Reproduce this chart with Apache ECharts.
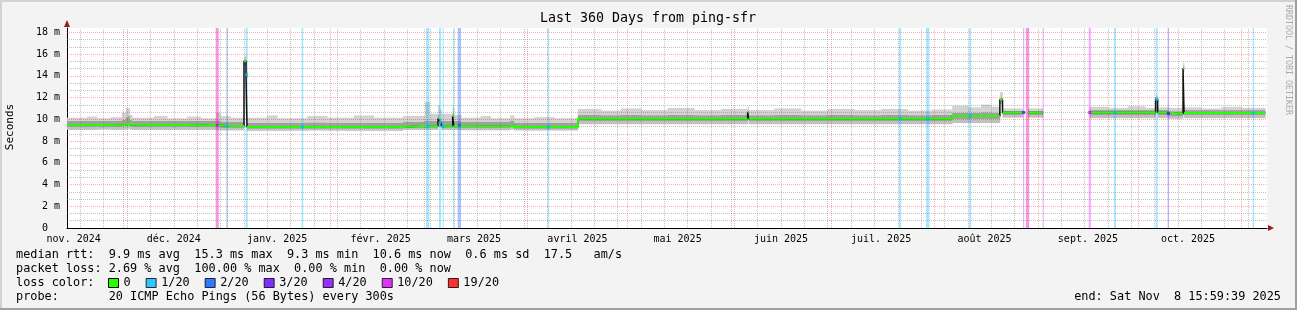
<!DOCTYPE html>
<html><head><meta charset="utf-8">
<script src="https://cdn.jsdelivr.net/npm/echarts@6/dist/echarts.min.js"></script>
<style>html,body{margin:0;padding:0;background:#f3f3f3}#c{width:1297px;height:310px}</style>
</head><body><div id="c"></div>
<script>
// ---------- axis / tick data ----------
const startDate = '2024-11-14';
const spanDays = 359.667;
const monthStarts = ['2024-12-01','2025-01-01','2025-02-01','2025-03-01','2025-04-01','2025-05-01','2025-06-01','2025-07-01','2025-08-01','2025-09-01','2025-10-01','2025-11-01'];
const monthLabelDates = ['2024-11-16','2024-12-16','2025-01-16','2025-02-16','2025-03-16','2025-04-16','2025-05-16','2025-06-16','2025-07-16','2025-08-16','2025-09-16','2025-10-16'];
const monthLabels = ['nov. 2024','déc. 2024','janv. 2025','févr. 2025','mars 2025','avril 2025','mai 2025','juin 2025','juil. 2025','août 2025','sept. 2025','oct. 2025'];
const firstMonday = '2024-11-18';
const yTicks = [0,2,4,6,8,10,12,14,16,18];
const yMax = 18.4;

// ---------- series data (days since start, milliseconds) ----------
const sampleDays = [0,6,9,13,16.5,17.6,18.3,18.8,19.5,26,30,36,40,44.7,46,49,53.05,53.65,53.95,60,63,72,78,86,92,100.7,107.3,108.6,111.2,111.6,112.2,115.6,115.9,118.1,124,127,132.8,134,140,146,153.1,160,166,172,180,188,196,204,204.3,212,220,228,236,244,252,259,265.3,270,274,277,279.6,280.4,286.5,288,292.5,306.5,312,318,323,326.3,326.9,330,334.5,334.8,340,346,352,359.1];
const medianMs = [9.48,9.48,9.48,9.45,9.5,9.55,9.78,9.5,9.48,9.48,9.48,9.46,9.48,9.45,9.38,9.38,15.33,14.1,9.29,9.29,9.29,9.29,9.29,9.29,9.29,9.41,9.35,9.35,10.1,9.7,9.35,10.3,9.38,9.35,9.35,9.35,9.5,9.29,9.29,9.29,10.06,10.06,10.06,10.06,10.04,10.06,10.06,10.67,10.06,10.06,10.04,10.06,10.06,10.04,10.06,10.04,10.3,10.3,10.3,10.3,11.8,10.63,null,10.63,null,10.63,10.63,10.63,10.63,11.85,10.63,10.49,14.7,10.58,10.58,10.58,10.58,10.6];
const smokeMinMs = [9.02,9.02,9.05,9.02,9.05,9.05,9.15,9.05,9.02,9.02,9.02,9.02,9.02,8.98,8.98,8.98,14.9,13.8,8.95,8.95,8.95,8.97,8.95,8.95,8.95,9.02,9.02,9.02,9.5,9.3,9.02,9.6,9.02,8.99,8.99,8.99,9.05,8.97,8.97,8.97,9.55,9.55,9.55,9.55,9.55,9.55,9.55,9.9,9.55,9.55,9.55,9.55,9.55,9.55,9.55,9.55,9.66,9.66,9.66,9.66,11.4,10.15,null,10.15,null,10.1,10.1,10.1,10.1,11.5,10.1,10.05,14.4,10.1,10.1,10.1,10.1,10.1];
const smokeLoMs = [9.3,9.3,9.3,9.28,9.35,9.4,9.5,9.35,9.3,9.3,9.3,9.28,9.3,9.25,9.2,9.2,15.1,13.95,9.12,9.12,9.12,9.12,9.12,9.12,9.12,9.2,9.2,9.2,9.75,9.5,9.2,9.9,9.2,9.15,9.15,9.15,9.25,9.12,9.12,9.12,9.8,9.8,9.8,9.8,9.8,9.8,9.8,10.2,9.8,9.8,9.8,9.8,9.8,9.8,9.8,9.8,10.0,10.0,10.0,10.0,11.6,10.4,null,10.4,null,10.35,10.35,10.35,10.35,11.7,10.35,10.25,14.55,10.35,10.35,10.35,10.35,10.35];
const smokeHiMs = [9.85,9.85,9.85,9.85,9.95,10.2,10.3,9.95,9.85,9.85,9.85,9.85,9.85,9.9,9.75,9.75,15.5,14.3,9.7,9.7,9.7,9.72,9.7,9.7,9.7,9.8,9.9,9.85,10.4,10.1,9.85,10.6,9.85,9.75,9.75,9.75,9.9,9.7,9.7,9.7,10.4,10.38,10.4,10.38,10.4,10.38,10.4,10.8,10.38,10.4,10.38,10.4,10.38,10.4,10.38,10.4,10.62,10.62,10.65,10.62,12.0,10.8,null,10.8,null,10.85,10.85,10.85,10.85,12.0,10.85,10.75,14.9,10.85,10.85,10.85,10.85,10.85];
const smokeMaxMs = [10.15,10.25,10.1,10.2,10.6,11.07,11.0,10.4,10.15,10.3,10.1,10.25,10.1,10.6,10.3,10.15,15.8,14.5,10.15,10.35,10.1,10.3,10.15,10.35,10.15,10.3,11.6,10.5,11.3,10.9,10.5,11.1,10.4,10.15,10.3,10.1,10.35,10.1,10.2,10.1,10.95,10.8,11.0,10.85,11.05,10.85,10.95,11.2,10.85,11.0,10.8,10.95,10.85,10.95,10.8,10.9,11.25,11.1,11.35,11.15,12.5,11.0,null,11.0,null,11.15,11.05,11.2,11.05,12.2,11.1,11.05,15.2,11.1,11.0,11.15,11.05,11.1];
const spikeDays = [53.05,53.65,111.2,111.6,115.6,204,279.6,326.3,334.5];

// ---------- packet loss ----------
const lossLevels = ['0','1/20','2/20','3/20','4/20','10/20','19/20'];
const lossColors = ['#26ff00','#00b8ff','#0059ff','#5e00ff','#7e00ff','#dd00ff','#ff0000'];
const lossStartDays = [44.57,44.57,47.7,53.55,70.3,107.6,111.5,112.6,115.7,117.1,144.1,249.4,257.5,270.4,286.6,287.4,287.4,292.4,306.2,313.8,326.3,329.9,355.4];
const lossEndDays   = [45.47,45.47,48.2,54.15,70.8,108.6,112.1,112.9,116.0,118.1,144.5,250.0,258.5,271.0,286.9,288.4,288.4,292.8,306.9,314.4,326.9,330.3,355.8];
const lossLevel     = [6,5,1,1,1,1,1,1,1,2,1,1,1,1,4,6,5,5,5,1,1,3,1];
const lossMedianMs  = [null,9.45,9.38,14.1,9.29,9.35,9.7,9.35,null,9.45,9.29,10.06,10.06,10.3,10.63,null,null,null,10.63,10.63,11.85,10.55,10.6];

// ---------- legend texts ----------
const statLines = [
  'median rtt:  9.9 ms avg  15.3 ms max  9.3 ms min  10.6 ms now  0.6 ms sd  17.5   am/s',
  'packet loss: 2.69 % avg  100.00 % max  0.00 % min  0.00 % now',
  'loss color:',
  'probe:       20 ICMP Echo Pings (56 Bytes) every 300s'
];
const endText = 'end: Sat Nov  8 15:59:39 2025';
const titleText = 'Last 360 Days from ping-sfr';

// ---------- build ----------
const DAY = 86400000;
const ts = s => Date.parse(s + 'T00:00:00Z');
const T0 = ts(startDate);
const TMAX = T0 + spanDays * DAY;
const tOf = d => T0 + d * DAY;
const MONO = '"DejaVu Sans Mono"';
const LEG = 11.85;

const labelTs = monthLabelDates.map(ts);
const majorVT = monthStarts.map(ts);
const minorVT = [];
for (let t = ts(firstMonday); t < TMAX; t += 7 * DAY) if (majorVT.indexOf(t) < 0) minorVT.push(t);
const majorH = yTicks.filter(v => v > 0);
const minorH = [];
for (let k = 1; k * 2 / 3 < yMax; k++) if (k % 3) minorH.push(k * 2 / 3);

const minorStyle = {color: 'rgba(120,120,120,0.45)', type: [1, 1], width: 1};
const majorStyle = {color: 'rgba(255,0,0,0.32)', type: [1, 1], width: 1};
const gridLines = [].concat(
  minorVT.map(t => ({xAxis: t, lineStyle: minorStyle})),
  minorH.map(v => ({yAxis: v, lineStyle: minorStyle})),
  majorVT.map(t => ({xAxis: t, lineStyle: majorStyle})),
  majorH.map(v => ({yAxis: v, lineStyle: majorStyle}))
);

const pair = arr => sampleDays.map((d, i) => [tOf(d), arr[i]]);

// smoke: one item per step interval [tStart, tEnd, min, lo, hi, max]
const smokeData = [];
for (let i = 0; i < sampleDays.length - 1; i++) {
  if (smokeMinMs[i] == null) continue;
  smokeData.push([tOf(sampleDays[i]), tOf(sampleDays[i + 1]), smokeMinMs[i], smokeLoMs[i], smokeHiMs[i], smokeMaxMs[i]]);
}
const smokeColors = ['#c0c0c0', '#a0a0a0', '#d2d2d2'];
function renderSmoke(params, api) {
  const t0 = api.value(0), t1 = api.value(1);
  const ys = [api.value(2), api.value(3), api.value(4), api.value(5)];
  const x0 = api.coord([t0, ys[0]])[0];
  const x1 = api.coord([t1, ys[0]])[0] + 0.4;
  const children = [];
  for (let b = 0; b < 3; b++) {
    const yA = api.coord([t0, ys[b]])[1];
    const yB = api.coord([t0, ys[b + 1]])[1];
    children.push({type: 'rect', shape: {x: x0, y: yB, width: x1 - x0, height: yA - yB},
      style: {fill: smokeColors[b]}, silent: true});
  }
  return {type: 'group', children: children};
}

const greenData = [];
sampleDays.forEach((d, i) => {
  const isSpike = spikeDays.indexOf(d) >= 0;
  const prevSpike = i > 0 && spikeDays.indexOf(sampleDays[i - 1]) >= 0;
  if (isSpike || prevSpike) greenData.push([tOf(d), null]);
  greenData.push([tOf(d), medianMs[i]]);
});

const series = [
  {type: 'line', name: 'grid', data: [], silent: true,
   markLine: {silent: true, symbol: ['none', 'none'], label: {show: false}, animation: false, z: 4, data: gridLines}},
  {type: 'custom', name: 'smoke', silent: true, z: 2, renderItem: renderSmoke,
   encode: {x: [0, 1], y: [2, 3, 4, 5]}, data: smokeData},
  {type: 'line', name: 'median', step: 'end', symbol: 'none', silent: true, data: pair(medianMs),
   lineStyle: {color: '#111', width: 1.5}, z: 6},
  {type: 'line', name: lossLevels[0], step: 'end', symbol: 'none', silent: true, data: greenData,
   itemStyle: {color: lossColors[0]}, lineStyle: {color: lossColors[0], width: 2}, z: 7}
];
const barOpacity = [0, 0.35, 0.35, 0.35, 0.35, 0.3, 0.15];
for (let lv = 1; lv < lossLevels.length; lv++) {
  const idx = lossLevel.map((l, i) => l === lv ? i : -1).filter(i => i >= 0);
  series.push({
    type: 'scatter', name: lossLevels[lv], symbol: 'rect', symbolSize: [3, 3], silent: true, z: 8,
    itemStyle: {color: lossColors[lv]},
    data: idx.map(i => [tOf((lossStartDays[i] + lossEndDays[i]) / 2), lossMedianMs[i]]),
    markArea: {silent: true, z: 3, animation: false, label: {show: false},
      itemStyle: {color: lossColors[lv], opacity: barOpacity[lv], borderWidth: 0},
      data: idx.map(i => [{xAxis: tOf(lossStartDays[i])}, {xAxis: tOf(lossEndDays[i])}])}
  });
}

const txt = (text, x, y, size, opts) => Object.assign({
  type: 'text', x: x, y: y, silent: true,
  style: Object.assign({text: text, font: size + 'px ' + MONO, fill: '#000',
    textAlign: 'left', align: 'left', textVerticalAlign: 'middle', verticalAlign: 'middle'}, (opts && opts.style) || {})
}, (opts && opts.el) || {});

const graphic = [
  {type: 'rect', shape: {x: 0, y: 0, width: 1297, height: 2}, style: {fill: '#d2d2d2'}, silent: true},
  {type: 'rect', shape: {x: 0, y: 0, width: 2, height: 310}, style: {fill: '#d2d2d2'}, silent: true},
  {type: 'rect', shape: {x: 0, y: 308, width: 1297, height: 2}, style: {fill: '#a0a0a0'}, silent: true},
  {type: 'rect', shape: {x: 1295, y: 0, width: 2, height: 310}, style: {fill: '#a0a0a0'}, silent: true},
  {type: 'polygon', shape: {points: [[64, 27], [70, 27], [67, 20]]}, style: {fill: '#9b1c1c'}, silent: true, z: 10},
  {type: 'polygon', shape: {points: [[1268, 225], [1268, 231], [1274, 228]]}, style: {fill: '#9b1c1c'}, silent: true, z: 10},
  txt(titleText, 648, 18.7, 13.3, {style: {textAlign: 'center', align: 'center'}}),
  txt('Seconds', 10, 127, 11, {el: {rotation: Math.PI / 2}, style: {textAlign: 'center', align: 'center'}}),
  txt('RRDTOOL / TOBI OETIKER', 1288, 60, 8.3, {el: {rotation: -Math.PI / 2}, style: {textAlign: 'center', align: 'center', fill: '#aaaaaa'}}),
  txt(statLines[0], 16, 255, LEG),
  txt(statLines[1], 16, 269, LEG),
  txt(statLines[2], 16, 283, LEG),
  txt(statLines[3], 16, 297, LEG),
  txt(endText, 1281, 297, LEG, {style: {textAlign: 'right', align: 'right'}})
];

const chart = echarts.init(document.getElementById('c'), null, {renderer: 'canvas'});
chart.setOption({
  animation: false,
  useUTC: true,
  backgroundColor: '#f3f3f3',
  grid: {left: 67, top: 28, width: 1200, height: 200, show: true, backgroundColor: '#ffffff', borderWidth: 0, containLabel: false, outerBoundsMode: 'none'},
  xAxis: [
    {type: 'time', min: T0, max: TMAX,
      axisLine: {show: true, lineStyle: {color: '#000', width: 1}},
      axisTick: {show: false}, splitLine: {show: false}, minorSplitLine: {show: false},
      axisLabel: {show: false}},
    {type: 'value', min: T0, max: TMAX, position: 'bottom', offset: 0,
      axisLine: {show: false}, axisTick: {show: false}, splitLine: {show: false},
      axisLabel: {customValues: labelTs, hideOverlap: false, margin: 6, fontFamily: MONO, fontSize: 10, color: '#000',
        showMinLabel: true, showMaxLabel: true,
        formatter: (v) => { const k = labelTs.indexOf(+v); return k >= 0 ? monthLabels[k] : ''; }}}
  ],
  yAxis: {type: 'value', min: 0, max: yMax, interval: 2,
    axisLine: {show: true, lineStyle: {color: '#000', width: 1}},
    axisTick: {show: false}, splitLine: {show: false},
    axisLabel: {customValues: yTicks, margin: 7, fontFamily: MONO, fontSize: 10, color: '#000',
      formatter: v => v === 0 ? '0\u00a0\u00a0' : v + ' m'}},
  legend: {left: 108, top: 277, padding: 0, itemWidth: 10, itemHeight: 9, itemGap: 15, icon: 'rect', selectedMode: false,
    textStyle: {fontFamily: MONO, fontSize: LEG, color: '#000'},
    itemStyle: {borderColor: '#000', borderWidth: 1},
    data: lossLevels},
  tooltip: {show: false},
  graphic: graphic,
  series: series
});
</script></body></html>
